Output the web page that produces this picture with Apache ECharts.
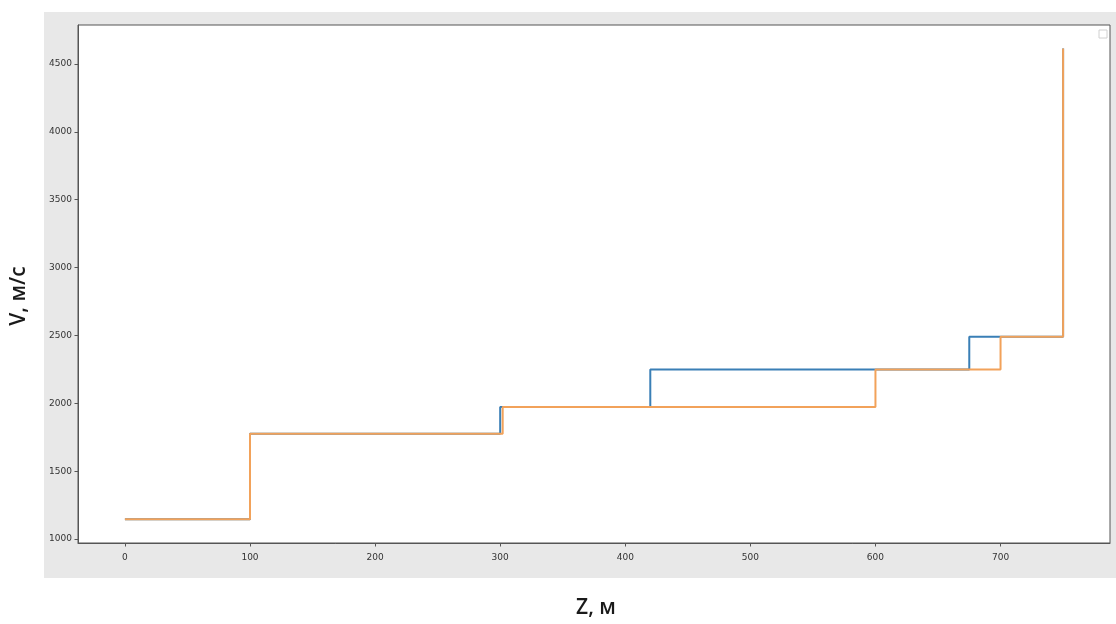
<!DOCTYPE html>
<html>
<head>
<meta charset="utf-8">
<script src="https://cdn.jsdelivr.net/npm/echarts@6/dist/echarts.min.js"></script>
<style>
html,body{margin:0;padding:0;background:#fff;}
#c{width:1116px;height:624px;}
</style>
</head>
<body>
<div id="c"></div>
<script>
// Step profiles (depth Z in m, velocity V in m/s)
const blueZ = [0, 100, 300, 420, 675, 750];
const blueV = [1146, 1775, 1972, 2250, 2491, 4614];
const orangeZ = [0, 100, 302, 600, 700, 750];
const orangeV = [1146, 1775, 1972, 2250, 2491, 4614];
const xTicks = [0, 100, 200, 300, 400, 500, 600, 700];
const yTicks = [1000, 1500, 2000, 2500, 3000, 3500, 4000, 4500];
const xName = 'Z, м';
const yName = 'V, м/с';

const pairs = (zs, vs) => zs.map((z, i) => [z, vs[i]]);

const chart = echarts.init(document.getElementById('c'), null, {renderer: 'canvas'});
const tickLabel = {fontSize: 9, color: '#333', fontFamily: 'DejaVu Sans', formatter: v => String(v)};
const nameStyle = {fontSize: 21, color: '#1a1a1a', fontFamily: 'Open Sans', fontWeight: 600};
chart.setOption({
  animation: false,
  backgroundColor: '#fff',
  graphic: {
    elements: [
      {type: 'rect', z: -100, shape: {x: 44, y: 12, width: 1072, height: 566}, style: {fill: '#e8e8e8'}},
      {type: 'rect', z: 100, shape: {x: 1099, y: 30, width: 8, height: 8}, style: {fill: '#fff', stroke: '#d0d0d0', lineWidth: 1}}
    ]
  },
  grid: {
    left: 78, top: 25, right: 6, bottom: 77,
    show: true, backgroundColor: '#fff', borderColor: '#555', borderWidth: 1
  },
  xAxis: {
    type: 'value', min: -37.5, max: 787.5,
    name: xName, nameLocation: 'middle', nameGap: 55,
    nameTextStyle: Object.assign({padding: [0, 0, 0, 4]}, nameStyle),
    axisLine: {show: true, onZero: false, lineStyle: {color: '#555', width: 1}},
    axisTick: {show: true, length: 3.5, lineStyle: {color: '#555'}, customValues: xTicks},
    axisLabel: Object.assign({customValues: xTicks, margin: 10}, tickLabel),
    splitLine: {show: false}
  },
  yAxis: {
    type: 'value', min: 971, max: 4787,
    name: yName, nameLocation: 'middle', nameGap: 48,
    nameTextStyle: Object.assign({padding: [0, 24, 0, 0]}, nameStyle),
    axisLine: {show: true, onZero: false, lineStyle: {color: '#555', width: 1}},
    axisTick: {show: true, length: 3.5, lineStyle: {color: '#555'}, customValues: yTicks},
    axisLabel: Object.assign({customValues: yTicks, margin: 6}, tickLabel),
    splitLine: {show: false}
  },
  series: [
    {
      type: 'line', step: 'end', showSymbol: false, symbol: 'none',
      data: pairs(blueZ, blueV),
      lineStyle: {color: '#3a7fb6', width: 2}, itemStyle: {color: '#3a7fb6'}
    },
    {
      type: 'line', step: 'end', showSymbol: false, symbol: 'none',
      data: pairs(orangeZ, orangeV),
      lineStyle: {color: '#f2a25a', width: 2}, itemStyle: {color: '#f2a25a'}
    }
  ]
});
</script>
</body>
</html>
